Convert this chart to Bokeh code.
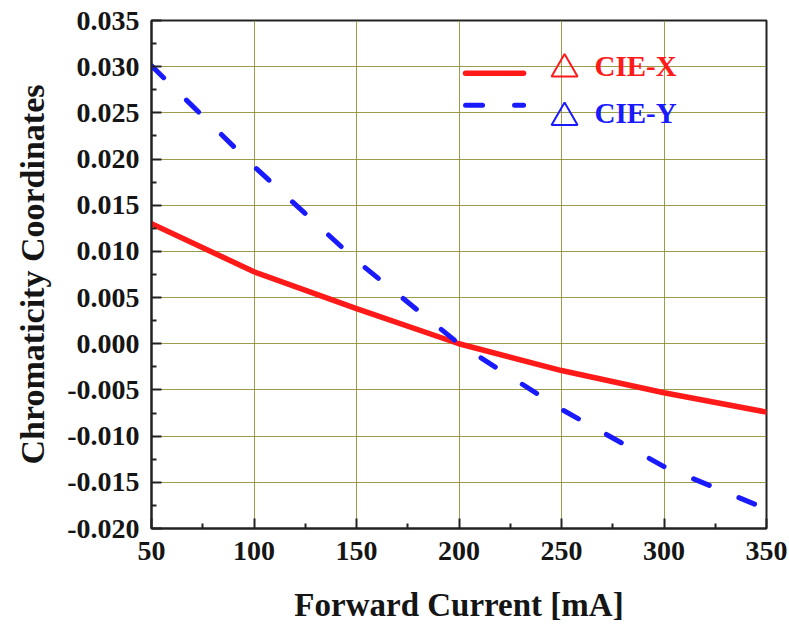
from bokeh.plotting import figure
from bokeh.embed import file_html
from bokeh.resources import INLINE
from bokeh.models import Range1d, FixedTicker, NumeralTickFormatter
from bokeh.core.properties import value

# ---- data ----
current = [50, 100, 150, 200, 250, 300, 350]
cie_x = [0.0130, 0.0078, 0.0038, 0.0000, -0.0029, -0.0053, -0.0074]
cie_y = [0.0301, 0.0192, 0.0090, 0.0000, -0.0071, -0.0133, -0.0179]
series_names = ["CIE-X", "CIE-Y"]
x_ticks = [50, 100, 150, 200, 250, 300, 350]
y_ticks = [-0.020, -0.015, -0.010, -0.005, 0.000, 0.005, 0.010, 0.015, 0.020, 0.025, 0.030, 0.035]

# ---- style ----
RED = "#ff1a1a"
BLUE = "#1a1aff"
FONT = "Liberation Serif"
GRID = "#8b8b2b"
DASH = "17 32"

p = figure(width=789, height=625, output_backend="svg", toolbar_location=None,
           x_range=Range1d(50, 350), y_range=Range1d(-0.020, 0.035),
           min_border_left=151, min_border_right=23, min_border_top=20, min_border_bottom=95)
p.background_fill_color = "white"
p.border_fill_color = "white"
p.outline_line_color = "#222222"
p.outline_line_width = 2

# grid
p.xgrid.ticker = FixedTicker(ticks=x_ticks)
p.ygrid.ticker = FixedTicker(ticks=y_ticks)
for g in (p.xgrid, p.ygrid):
    g.grid_line_color = GRID
    g.grid_line_width = 1
    g.grid_line_alpha = 0.85

# axes
p.xaxis.ticker = FixedTicker(ticks=x_ticks, minor_ticks=[75, 125, 175, 225, 275, 325])
p.yaxis.ticker = FixedTicker(ticks=y_ticks, minor_ticks=[t + 0.0025 for t in y_ticks[:-1]])
p.yaxis.formatter = NumeralTickFormatter(format="0.000")
p.xaxis.axis_label = "Forward Current [mA]"
p.yaxis.axis_label = "Chromaticity Coordinates"
for ax in (p.xaxis, p.yaxis):
    ax.axis_line_color = "#222222"
    ax.axis_line_width = 2
    ax.major_tick_in = 10
    ax.major_tick_out = 0
    ax.minor_tick_in = 5
    ax.minor_tick_out = 0
    ax.major_tick_line_width = 2
    ax.minor_tick_line_width = 2
    ax.major_tick_line_color = "#222222"
    ax.minor_tick_line_color = "#222222"
    ax.major_label_text_font = FONT
    ax.major_label_text_font_style = "bold"
    ax.major_label_text_font_size = "28px"
    ax.major_label_text_color = "#151515"
    ax.axis_label_text_font = FONT
    ax.axis_label_text_font_style = "bold"
    ax.axis_label_text_color = "#151515"
p.xaxis.axis_label_text_font_size = "33px"
p.yaxis.axis_label_text_font_size = "34px"
p.xaxis.major_label_standoff = 13
p.xaxis.axis_label_standoff = 24
p.yaxis.major_label_standoff = 12
p.yaxis.axis_label_standoff = 13

# data lines
p.line(current, cie_x, line_color=RED, line_width=5.5, line_join="round", line_cap="round")
p.line(current, cie_y, line_color=BLUE, line_width=5, line_dash=DASH, line_cap="round")

# legend (custom, positioned in data space)
leg_line_x = [203.2, 231.5]
leg_rows_y = [0.02928, 0.02583]
tri_x = 251.5
tri_y = [0.02975, 0.02450]
txt_x = 266.1
txt_y = [0.03004, 0.02497]

p.line(leg_line_x, [leg_rows_y[0]] * 2, line_color=RED, line_width=5.5, line_cap="round")
p.line(leg_line_x, [leg_rows_y[1]] * 2, line_color=BLUE, line_width=5, line_dash=DASH, line_cap="round")
p.scatter([tri_x, tri_x], tri_y, marker="triangle", size=26, fill_color=None,
          line_color=[RED, BLUE], line_width=2)
p.text([txt_x, txt_x], txt_y, text=series_names, text_color=[RED, BLUE],
       text_font=value(FONT), text_font_style="bold", text_font_size="29px",
       text_baseline="alphabetic", text_align="left")

open("out.html", "w").write(file_html(p, INLINE))
